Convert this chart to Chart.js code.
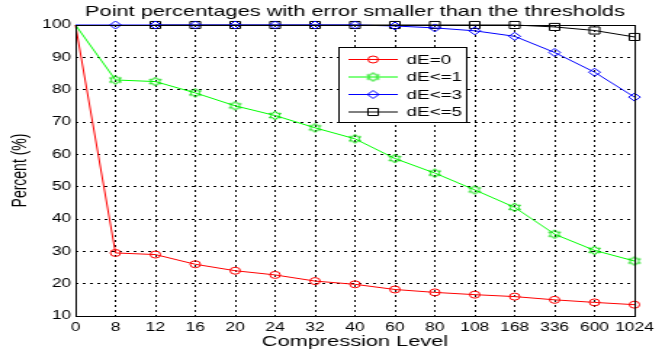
<!DOCTYPE html>
<html>
<head>
<meta charset="utf-8">
<script src="https://cdn.jsdelivr.net/npm/chart.js@4.4.1/dist/chart.umd.min.js"></script>
<style>
  html, body { margin: 0; padding: 0; background: #fff; overflow: hidden; }
  /* the source figure was saved stretched sideways, so draw narrow and widen */
  #wrap { width: 456px; height: 354px; transform: scaleX(1.4518); transform-origin: 0 0; }
  canvas { display: block; }
</style>
</head>
<body>
<div id="wrap"><canvas id="chart" width="456" height="354"></canvas></div>
<script>
// data
const levels = ['0', '8', '12', '16', '20', '24', '32', '40', '60', '80', '108', '168', '336', '600', '1024'];
const dE0 = [100, 29.5, 29, 26, 24, 22.7, 20.8, 19.8, 18.2, 17.3, 16.6, 16, 15, 14.2, 13.5];
const dE1 = [100, 83, 82.5, 79, 75, 72, 68.2, 64.8, 58.7, 54.2, 49, 43.6, 35.3, 30.3, 27];
const dE3 = [100, 100, 100, 100, 100, 100, 100, 100, 99.7, 99.1, 98.2, 96.5, 91.5, 85.4, 77.7];
const dE5 = [null, null, 100, 100, 100, 100, 100, 100, 100, 100, 100, 100, 99.4, 98.3, 96.3];
const yMin = 10, yMax = 100, yStep = 10;

const FONT = 'Arial, "Liberation Sans", sans-serif';

// matlab-ish hexagram marker
function hexagram(color) {
  const c = document.createElement('canvas');
  c.width = 11; c.height = 11;
  const g = c.getContext('2d');
  g.strokeStyle = color;
  g.lineWidth = 1;
  g.beginPath();
  for (let i = 0; i < 12; i++) {
    const a = -Math.PI / 2 + i * Math.PI / 6;
    const r = i % 2 === 0 ? 4.5 : 2.6;
    const x = 5.5 + r * Math.cos(a), y = 5.5 + r * Math.sin(a);
    if (i === 0) g.moveTo(x, y); else g.lineTo(x, y);
  }
  g.closePath();
  g.stroke();
  return c;
}

const boxAndLegend = {
  id: 'boxAndLegend',
  afterDraw(chart) {
    const { ctx, chartArea: a } = chart;
    ctx.save();
    // axes box
    ctx.strokeStyle = '#000';
    ctx.lineWidth = 1;
    ctx.setLineDash([]);
    ctx.strokeRect(Math.round(a.left) + 0.5, Math.round(a.top) + 0.5,
      Math.round(a.right - a.left), Math.round(a.bottom - a.top));

    // title
    ctx.fillStyle = '#000';
    ctx.font = '15px ' + FONT;
    ctx.textAlign = 'center';
    ctx.textBaseline = 'middle';
    ctx.fillText('Point percentages with error smaller than the thresholds', (a.left + a.right) / 2, 12);

    // legend box
    const lx = 233, ly = 47, lw = 88, lh = 75;
    ctx.fillStyle = '#fff';
    ctx.fillRect(lx, ly, lw, lh);
    ctx.strokeStyle = '#000';
    ctx.strokeRect(lx + 0.5, ly + 0.5, lw, lh);
    ctx.font = '13px ' + FONT;
    ctx.textAlign = 'left';
    chart.data.datasets.forEach((ds, i) => {
      const y = ly + 12 + i * 17.5;
      ctx.strokeStyle = ds.borderColor;
      ctx.fillStyle = 'rgba(0,0,0,0)';
      ctx.beginPath();
      ctx.moveTo(lx + 7, y + 0.5);
      ctx.lineTo(lx + 41, y + 0.5);
      ctx.stroke();
      Chart.helpers.drawPoint(ctx, {
        pointStyle: ds.pointStyle, radius: ds.markerSize, rotation: 0,
        borderWidth: 1
      }, lx + 24, y + 0.5);
      ctx.fillStyle = '#000';
      ctx.fillText(ds.label, lx + 47, y + 1);
    });
    ctx.restore();
  }
};

function series(label, data, color, style, radius) {
  return {
    label, data,
    markerSize: radius,
    borderColor: color,
    backgroundColor: 'rgba(0,0,0,0)',
    borderWidth: 1,
    pointStyle: style,
    pointRadius: c => (c.dataIndex === 0 ? 0 : radius),
    pointBorderWidth: 1,
    pointBorderColor: color,
    pointBackgroundColor: 'rgba(0,0,0,0)',
    tension: 0,
    spanGaps: false,
    clip: false
  };
}

new Chart(document.getElementById('chart'), {
  type: 'line',
  data: {
    labels: levels,
    datasets: [
      series('dE=0', dE0, '#ff0000', 'circle', 3.5),
      series('dE<=1', dE1, '#00ff00', hexagram('#00dd00'), 5),
      series('dE<=3', dE3, '#0000ff', 'rectRot', 4),
      series('dE<=5', dE5, '#000000', 'rect', 5)
    ]
  },
  options: {
    responsive: false,
    animation: false,
    layout: { padding: { top: 25, right: 19, left: 0, bottom: 0 } },
    plugins: {
      legend: { display: false },
      tooltip: { enabled: false }
    },
    scales: {
      x: {
        offset: false,
        grid: { color: '#000', lineWidth: 1, drawTicks: false },
        border: { display: false, dash: [2, 3] },
        ticks: {
          color: '#000',
          font: { size: 12, family: FONT },
          padding: 4,
          maxRotation: 0,
          autoSkip: false
        },
        title: {
          display: true,
          text: 'Compression Level',
          color: '#000',
          font: { size: 15, family: FONT },
          padding: { top: 0, bottom: 3 }
        },
        afterFit(scale) { scale.height = 38; }
      },
      y: {
        min: yMin,
        max: yMax,
        grid: { color: '#000', lineWidth: 1, drawTicks: false },
        border: { display: false, dash: [2, 3] },
        ticks: {
          stepSize: yStep,
          color: '#000',
          font: { size: 12, family: FONT },
          padding: 3
        },
        title: {
          display: true,
          text: 'Percent (%)',
          color: '#000',
          font: { size: 14, family: FONT },
          padding: { top: 6, bottom: 0 }
        },
        afterFit(scale) { scale.width = 52; }
      }
    }
  },
  plugins: [boxAndLegend]
});
</script>
</body>
</html>
